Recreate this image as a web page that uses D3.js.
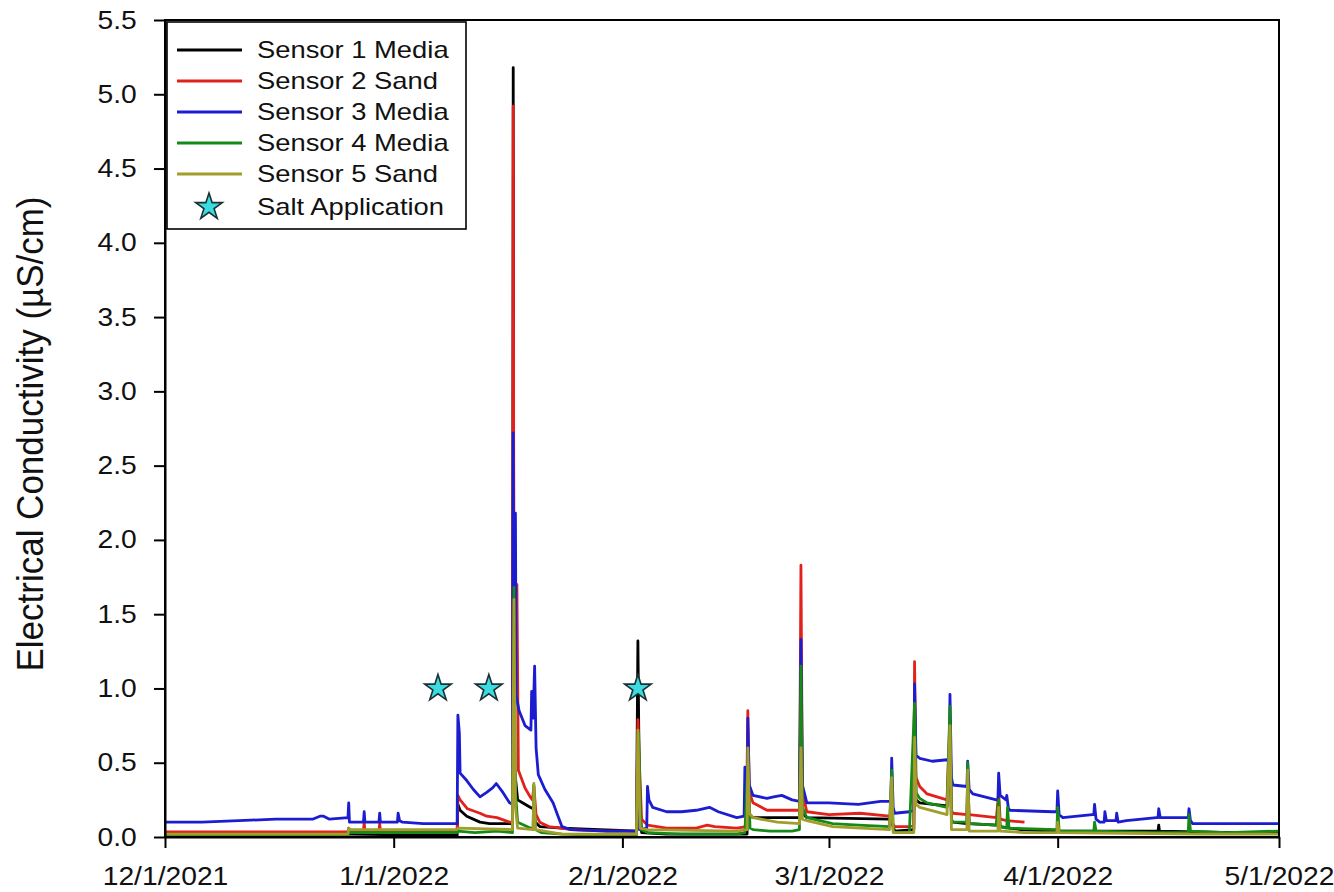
<!DOCTYPE html>
<html><head><meta charset="utf-8">
<script src="https://cdn.jsdelivr.net/npm/d3@7"></script>
<style>
html,body{margin:0;padding:0;background:#fff;}
svg{display:block;font-family:"Liberation Sans",Arial,sans-serif;}
</style></head>
<body>
<svg id="chart" width="1334" height="892"></svg>
<script>
// ---- data (day offset from 12/1/2021, EC value) ----
const startDate = [2021, 11, 1];
const endDate = [2022, 4, 1];
const xTickLabels = ["12/1/2021","1/1/2022","2/1/2022","3/1/2022","4/1/2022","5/1/2022"];
const yTickValues = [0,0.5,1,1.5,2,2.5,3,3.5,4,4.5,5,5.5];
const seriesNames = ["Sensor 1 Media","Sensor 2 Sand","Sensor 3 Media","Sensor 4 Media","Sensor 5 Sand"];
const seriesColors = ["#000000","#e3211c","#1c1cd0","#168a16","#a19e2c"];

const sensor1 = [[0,0.02],[24.8,0.02],[39.6,0.01],[39.7,0.22],[40.0,0.18],[40.9,0.14],[42.7,0.10],[44,0.09],[46.7,0.09],[47.1,0.09],[47.2,5.18],[47.3,0.5],[47.8,0.25],[48.8,0.22],[49.5,0.20],[49.9,0.19],[50.2,0.10],[50.8,0.07],[53.8,0.06],[58.9,0.05],[61.7,0.045],[63.9,0.04],[64.1,1.32],[64.3,0.3],[64.6,0.03],[68,0.02],[77.5,0.02],[78.9,0.02],[79.0,0.6],[79.2,0.15],[79.7,0.13],[86.0,0.13],[86.2,1.0],[86.4,0.16],[87.0,0.13],[98.2,0.12],[98.5,0.1],[98.9,0.04],[101.5,0.05],[101.6,0.9],[101.8,0.25],[102.3,0.23],[106.0,0.21],[106.4,0.6],[106.6,0.11],[106.8,0.10],[108.7,0.09],[108.8,0.3],[109,0.09],[112.7,0.08],[113,0.2],[113.2,0.07],[114.5,0.06],[116,0.05],[120,0.04],[134.6,0.04],[134.7,0.08],[134.8,0.04],[145,0.03],[151,0.03]];
const sensor2 = [[0,0.035],[24.8,0.035],[24.9,0.06],[25.1,0.04],[26.9,0.04],[27.0,0.10],[27.1,0.04],[29.0,0.04],[29.1,0.09],[29.2,0.04],[31.6,0.04],[39.6,0.04],[39.7,0.28],[40.0,0.25],[41.0,0.19],[42.7,0.16],[43.6,0.14],[45,0.13],[46.7,0.10],[47.1,0.10],[47.2,4.92],[47.3,1.2],[47.7,1.7],[47.9,0.45],[48.8,0.33],[49.5,0.27],[49.8,0.25],[50.0,0.34],[50.3,0.15],[50.8,0.10],[52,0.07],[53.8,0.06],[55,0.05],[60,0.04],[63.9,0.04],[64.1,0.79],[64.3,0.5],[64.6,0.12],[65.4,0.08],[68,0.06],[72,0.06],[73.5,0.08],[74.5,0.07],[77.5,0.06],[78.8,0.07],[79.0,0.85],[79.2,0.30],[79.7,0.23],[81.6,0.18],[84,0.18],[86.0,0.18],[86.2,1.83],[86.4,0.30],[87.0,0.17],[90,0.15],[94.2,0.16],[98.2,0.14],[98.5,0.10],[98.9,0.07],[100.9,0.07],[101.5,0.08],[101.6,1.18],[101.8,0.40],[102.3,0.34],[103.3,0.29],[106.0,0.25],[106.4,0.8],[106.6,0.18],[106.8,0.16],[108.7,0.15],[108.8,0.4],[109.0,0.15],[112.7,0.13],[113.0,0.3],[113.2,0.12],[114.1,0.11],[116.5,0.10]];
const sensor3 = [[0,0.10],[5,0.10],[10,0.11],[15,0.12],[20,0.12],[21,0.14],[21.5,0.14],[22.3,0.12],[24.8,0.13],[24.9,0.23],[25.0,0.10],[26.9,0.10],[27.0,0.17],[27.1,0.10],[29.0,0.10],[29.1,0.16],[29.2,0.10],[31.5,0.10],[31.6,0.16],[31.8,0.11],[32.2,0.10],[35,0.09],[39.6,0.09],[39.7,0.82],[39.9,0.70],[40.0,0.43],[40.9,0.38],[41.8,0.32],[42.7,0.27],[43.6,0.30],[44.4,0.33],[44.9,0.36],[45.8,0.30],[46.7,0.23],[47.1,0.22],[47.2,2.72],[47.3,1.0],[47.4,1.6],[47.5,2.18],[47.6,0.95],[48.0,0.85],[48.8,0.75],[49.6,0.72],[49.7,0.98],[49.9,0.80],[50.1,1.15],[50.3,0.60],[50.6,0.42],[51.5,0.32],[52.6,0.23],[53.2,0.15],[53.8,0.07],[55,0.05],[60,0.04],[63.9,0.04],[64.1,0.5],[64.3,0.05],[65.3,0.06],[65.4,0.34],[65.6,0.25],[66.1,0.20],[68,0.17],[70,0.17],[72,0.18],[73.8,0.20],[75,0.17],[77.5,0.13],[78.5,0.14],[78.6,0.47],[78.7,0.15],[78.9,0.16],[79.0,0.80],[79.2,0.35],[79.7,0.28],[81.6,0.26],[82.5,0.27],[83.6,0.28],[85,0.25],[86.0,0.24],[86.2,1.33],[86.4,0.35],[87.0,0.23],[90,0.23],[94,0.22],[97,0.24],[98.4,0.24],[98.5,0.53],[98.7,0.20],[98.9,0.16],[100.9,0.17],[101.5,0.18],[101.6,1.03],[101.8,0.55],[102.3,0.53],[104,0.51],[106.0,0.52],[106.3,0.50],[106.4,0.96],[106.6,0.40],[106.8,0.35],[108.7,0.34],[108.8,0.51],[109.0,0.32],[109.5,0.29],[112.7,0.25],[112.9,0.25],[113.0,0.43],[113.2,0.28],[114.0,0.25],[114.1,0.28],[114.3,0.20],[114.5,0.18],[120.3,0.17],[120.9,0.17],[121.0,0.31],[121.2,0.15],[121.7,0.13],[125.7,0.15],[125.9,0.15],[126.0,0.22],[126.2,0.12],[126.7,0.10],[127.3,0.10],[127.4,0.17],[127.6,0.11],[128.9,0.11],[129.0,0.16],[129.2,0.10],[130.3,0.11],[134.4,0.13],[134.6,0.13],[134.7,0.19],[134.9,0.13],[138.5,0.13],[138.7,0.13],[138.8,0.19],[139.0,0.11],[139.3,0.09],[143.9,0.09],[151,0.09]];
const sensor4 = [[0,0.005],[24.8,0.005],[24.9,0.04],[25.2,0.03],[39.6,0.03],[39.7,0.04],[42,0.03],[45,0.04],[47.1,0.03],[47.3,1.68],[47.5,0.3],[47.8,0.10],[49.5,0.06],[49.9,0.06],[50.0,0.35],[50.2,0.05],[51,0.03],[53.8,0.02],[60,0.01],[63.9,0.01],[64.2,0.7],[64.5,0.05],[65.4,0.03],[70,0.02],[77.5,0.02],[78.6,0.03],[79.0,0.5],[79.3,0.06],[79.7,0.05],[82,0.04],[85,0.04],[86.0,0.05],[86.2,1.15],[86.4,0.2],[87.0,0.13],[90.5,0.09],[94,0.08],[98.2,0.07],[98.5,0.45],[98.7,0.05],[98.9,0.03],[100.9,0.03],[101.6,0.9],[101.8,0.3],[102.3,0.26],[103.3,0.23],[106.0,0.20],[106.4,0.88],[106.6,0.12],[106.8,0.10],[108.7,0.10],[108.8,0.50],[109.0,0.09],[112.7,0.08],[113.0,0.25],[113.2,0.07],[114.1,0.06],[114.2,0.2],[114.4,0.06],[120.9,0.05],[121.0,0.20],[121.2,0.04],[125.9,0.04],[126.0,0.10],[126.2,0.04],[134,0.03],[138.7,0.03],[138.8,0.15],[139.0,0.04],[144,0.03],[151,0.04]];
const sensor5 = [[0,0.02],[24.8,0.02],[24.9,0.06],[25.1,0.05],[39.6,0.05],[39.7,0.06],[47.1,0.05],[47.3,1.6],[47.5,0.2],[47.8,0.06],[49.9,0.05],[50.0,0.36],[50.2,0.05],[53.8,0.02],[63.9,0.02],[64.1,0.72],[64.4,0.06],[65.4,0.05],[77.5,0.04],[78.9,0.05],[79.0,0.6],[79.2,0.16],[79.7,0.13],[83,0.10],[86.0,0.09],[86.2,0.6],[86.4,0.12],[87.0,0.11],[90.5,0.07],[98.2,0.05],[98.5,0.4],[98.7,0.03],[101.5,0.03],[101.6,0.67],[101.8,0.22],[102.3,0.20],[106.0,0.15],[106.4,0.75],[106.6,0.05],[108.7,0.05],[108.8,0.45],[109.0,0.04],[112.9,0.04],[113.0,0.2],[113.2,0.04],[116.5,0.03],[120.9,0.03],[121.0,0.1],[121.2,0.03],[140,0.02],[151,0.02]];
const saltDays = [37.0, 43.9, 64.1];
const saltValues = [1.0, 1.0, 1.0];

// ---- chart ----
const svg = d3.select("#chart");
const t0 = new Date(startDate[0], startDate[1], startDate[2]);
const t1 = new Date(endDate[0], endDate[1], endDate[2]);
const dayToDate = d => new Date(t0.getTime() + d * 864e5);

const x = d3.scaleTime().domain([t0, t1]).range([165, 1279]);
const y = d3.scaleLinear().domain([0, 5.5]).range([837, 20]);

const SX = 1.13; // horizontal glyph stretch of reference

const plot = svg.append("g");
plot.append("clipPath").attr("id","clip").append("rect")
  .attr("x",165).attr("y",20).attr("width",1114).attr("height",817);

const line = d3.line().x(d => x(dayToDate(d[0]))).y(d => y(d[1]));
const allSeries = [sensor1, sensor2, sensor3, sensor4, sensor5];
const lines = plot.append("g").attr("clip-path","url(#clip)");
allSeries.forEach((s, i) => {
  lines.append("path").datum(s).attr("d", line)
    .attr("fill","none").attr("stroke", seriesColors[i])
    .attr("stroke-width", 2.8).attr("stroke-linejoin","round");
});

// frame
svg.append("rect").attr("x",165).attr("y",20).attr("width",1114).attr("height",817)
  .attr("fill","none").attr("stroke","#000").attr("stroke-width",2);

// axes
const xTickDates = xTickLabels.map(s => { const p = s.split("/").map(Number); return new Date(p[2], p[0]-1, p[1]); });
const xAxis = d3.axisBottom(x).tickValues(xTickDates)
  .tickFormat((d,i) => xTickLabels[i]).tickSize(11).tickSizeOuter(0).tickPadding(19);
const yAxis = d3.axisLeft(y).tickValues(yTickValues)
  .tickFormat(d3.format(".1f")).tickSize(11).tickSizeOuter(0).tickPadding(14);

const gx = svg.append("g").attr("transform","translate(0,837)").call(xAxis);
const gy = svg.append("g").attr("transform","translate(165,0)").call(yAxis);
[gx, gy].forEach(g => {
  g.select(".domain").attr("stroke","#000").attr("stroke-width",2);
  g.selectAll(".tick line").attr("stroke","#000").attr("stroke-width",2);
  g.selectAll(".tick text").attr("fill","#111")
    .style("font-family","'Liberation Sans', Arial, sans-serif")
    .style("font-size","25px").attr("transform",`scale(${SX},1)`);
});

// y label
svg.append("text")
  .attr("transform",`translate(43,434) scale(1.06,1) rotate(-90)`)
  .attr("text-anchor","middle").attr("fill","#111")
  .style("font-size","35px")
  .text("Electrical Conductivity (µS/cm)");

// salt stars
const star = d3.symbol().type(d3.symbolStar).size(220);
svg.append("g").selectAll("path").data(saltDays.map((d,i)=>[d, saltValues[i]])).join("path")
  .attr("d", star)
  .attr("transform", d => `translate(${x(dayToDate(d[0]))},${y(d[1])})`)
  .attr("fill","#3adcdf").attr("stroke","#1b2f33").attr("stroke-width",1.6);

// legend
const leg = svg.append("g");
leg.append("rect").attr("x",167).attr("y",22).attr("width",299).attr("height",207)
  .attr("fill","#fff").attr("stroke","#000").attr("stroke-width",1.6);
const rowY = [50, 81, 112, 143, 174, 207];
seriesNames.forEach((n, i) => {
  leg.append("line").attr("x1",177).attr("x2",242).attr("y1",rowY[i]).attr("y2",rowY[i])
    .attr("stroke", seriesColors[i]).attr("stroke-width",2.8);
  leg.append("text").attr("transform",`translate(257,${rowY[i]}) scale(1.19,1)`)
    .attr("dy","0.35em").attr("fill","#111").style("font-size","23px").text(n);
});
leg.append("path").attr("d", star)
  .attr("transform",`translate(209,${rowY[5]})`)
  .attr("fill","#3adcdf").attr("stroke","#1b2f33").attr("stroke-width",1.6);
leg.append("text").attr("transform",`translate(257,${rowY[5]}) scale(1.19,1)`)
  .attr("dy","0.35em").attr("fill","#111").style("font-size","23px").text("Salt Application");
</script>
</body></html>
